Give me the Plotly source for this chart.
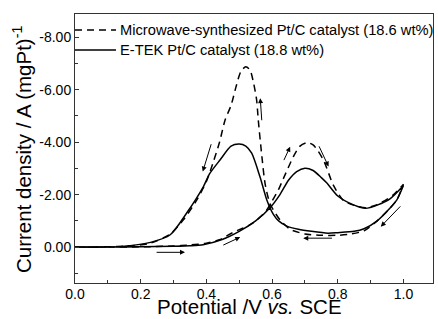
import plotly.graph_objects as go

# ---- data ----
etek_fwd_x = [0.0, 0.1, 0.2, 0.3, 0.35, 0.39, 0.45, 0.5, 0.55, 0.594, 0.624, 0.65, 0.675, 0.7, 0.725, 0.75, 0.767, 0.8, 0.85, 0.885, 0.92, 0.96, 1.0]
etek_fwd_y = [0.0, 0.0, -0.01, -0.03, -0.05, -0.09, -0.3, -0.6, -1.0, -1.5, -2.0, -2.55, -2.88, -3.01, -2.92, -2.65, -2.44, -1.95, -1.6, -1.48, -1.6, -1.85, -2.35]
etek_rev_x = [1.0, 0.98, 0.96, 0.92, 0.88, 0.85, 0.8, 0.77, 0.72, 0.68, 0.645, 0.62, 0.604, 0.584, 0.563, 0.538, 0.52, 0.5, 0.475, 0.442, 0.41, 0.391, 0.34, 0.29, 0.23, 0.15, 0.1, 0.0]
etek_rev_y = [-2.35, -1.8, -1.5, -1.0, -0.7, -0.6, -0.55, -0.53, -0.6, -0.68, -0.8, -1.0, -1.25, -1.8, -2.69, -3.58, -3.85, -3.93, -3.85, -3.33, -2.8, -2.31, -1.3, -0.47, -0.18, -0.03, 0.0, 0.0]

mw_fwd_x = [0.0, 0.1, 0.2, 0.3, 0.35, 0.4, 0.44, 0.48, 0.54, 0.58, 0.6, 0.62, 0.634, 0.665, 0.685, 0.706, 0.725, 0.756, 0.787, 0.817, 0.848, 0.885, 0.92, 0.97, 1.0]
mw_fwd_y = [0.0, 0.0, -0.01, -0.04, -0.08, -0.15, -0.28, -0.55, -0.9, -1.35, -1.75, -2.2, -2.6, -3.45, -3.85, -3.98, -3.9, -3.33, -2.35, -1.78, -1.6, -1.5, -1.62, -2.0, -2.4]
mw_rev_x = [1.0, 0.98, 0.96, 0.92, 0.88, 0.84, 0.8, 0.75, 0.7, 0.655, 0.624, 0.594, 0.579, 0.568, 0.558, 0.553, 0.543, 0.533, 0.52, 0.505, 0.49, 0.475, 0.457, 0.44, 0.42, 0.4, 0.371, 0.33, 0.29, 0.23, 0.15, 0.0]
mw_rev_y = [-2.4, -1.8, -1.5, -1.0, -0.62, -0.5, -0.45, -0.45, -0.5, -0.68, -1.04, -1.65, -2.4, -3.58, -4.85, -5.61, -6.3, -6.75, -6.88, -6.7, -6.1, -5.4, -4.85, -4.0, -3.2, -2.5, -1.8, -1.04, -0.5, -0.15, -0.03, 0.0]

# arrows: tail (x0, y0) -> head (x1, y1)
arrow_x0 = [0.244, 0.447, 0.416, 0.569, 0.634, 0.741, 0.787, 0.995]
arrow_y0 = [0.2, -0.05, -3.98, -4.78, -3.26, -3.90, -0.34, -1.61]
arrow_x1 = [0.335, 0.503, 0.389, 0.564, 0.655, 0.772, 0.695, 0.931]
arrow_y1 = [0.2, -0.38, -2.88, -5.68, -3.83, -3.07, -0.34, -0.78]

x_ticks = [0.0, 0.2, 0.4, 0.6, 0.8, 1.0]
x_ticktext = ["0.0", "0.2", "0.4", "0.6", "0.8", "1.0"]
y_ticks = [-8, -6, -4, -2, 0]
y_ticktext = ["-8.00", "-6.00", "-4.00", "-2.00", "0.00"]

names = ["Microwave-synthesized Pt/C catalyst (18.6 wt%)", "E-TEK Pt/C catalyst (18.8 wt%)"]
dashes = ["7px,5px", "solid"]

FONT = "Liberation Sans, Arial, sans-serif"
W, H = 438, 319
ML, MR, MT, MB = 75, 5, 14, 36
PW, PH = W - ML - MR, H - MT - MB

def px_to_paper_x(px):
    return (px - ML) / PW

def px_to_paper_y(py):
    return (H - MB - py) / PH

fig = go.Figure()
series = [(mw_fwd_x + mw_rev_x, mw_fwd_y + mw_rev_y), (etek_fwd_x + etek_rev_x, etek_fwd_y + etek_rev_y)]
for (xs, ys), name, dash in zip(series, names, dashes):
    fig.add_trace(go.Scatter(x=xs, y=ys, mode="lines", name=name, showlegend=False,
                             line=dict(color="black", width=1.5, dash=dash, shape="spline", smoothing=0.7)))

for x0, y0, x1, y1 in zip(arrow_x0, arrow_y0, arrow_x1, arrow_y1):
    fig.add_annotation(x=x1, y=y1, ax=x0, ay=y0, xref="x", yref="y", axref="x", ayref="y",
                       text="", showarrow=True, arrowhead=2, arrowsize=1, arrowwidth=1,
                       arrowcolor="black", standoff=0, startstandoff=0)

# legend drawn inside the frame (top-left), as in the reference
legend_rows = [30, 50]
for name, dash, row in zip(names, dashes, legend_rows):
    fig.add_shape(type="line", xref="paper", yref="paper",
                  x0=px_to_paper_x(75), x1=px_to_paper_x(116),
                  y0=px_to_paper_y(row), y1=px_to_paper_y(row),
                  line=dict(color="black", width=1.5, dash=dash))
    fig.add_annotation(x=px_to_paper_x(118), y=px_to_paper_y(row), xref="paper", yref="paper",
                       text=name, showarrow=False, xanchor="left", yanchor="middle",
                       font=dict(family=FONT, size=14.7, color="black"))

# axis titles
fig.add_annotation(x=px_to_paper_x(249), y=px_to_paper_y(H), xref="paper", yref="paper",
                   text="Potential /V <i>vs.</i> SCE", showarrow=False, xanchor="center", yanchor="bottom",
                   borderpad=0, font=dict(family=FONT, size=20.5, color="black"))
fig.add_annotation(x=px_to_paper_x(22), y=px_to_paper_y(150), xref="paper", yref="paper",
                   text="Current density / A (mgPt)<sup>-1</sup>", showarrow=False, textangle=-90,
                   xanchor="center", yanchor="middle",
                   font=dict(family=FONT, size=20.5, color="black"))

axis_common = dict(showline=True, linecolor="#333", linewidth=1, mirror=True, ticks="inside",
                   ticklen=4, tickwidth=1, tickcolor="#333", showgrid=False, zeroline=False,
                   automargin=False, tickfont=dict(family=FONT, size=14, color="black"))

fig.update_xaxes(range=[0, 1.09], tickvals=x_ticks, ticktext=x_ticktext, ticklabelstandoff=-2,
                 minor=dict(dtick=0.1, ticks="inside", ticklen=3, tickcolor="#333"),
                 **axis_common)
fig.update_yaxes(range=[1.37, -8.89], tickvals=y_ticks, ticktext=y_ticktext,
                 minor=dict(dtick=1, ticks="inside", ticklen=3, tickcolor="#333"),
                 **axis_common)

fig.update_layout(width=W, height=H, margin=dict(l=ML, r=MR, t=MT, b=MB),
                  paper_bgcolor="white", plot_bgcolor="white", showlegend=False)

# remove the browser's default 8px page margin so the figure sits at the window's corner
fig.write_html("out.html", config={"displayModeBar": False},
               post_script="document.body.style.margin='0';")
